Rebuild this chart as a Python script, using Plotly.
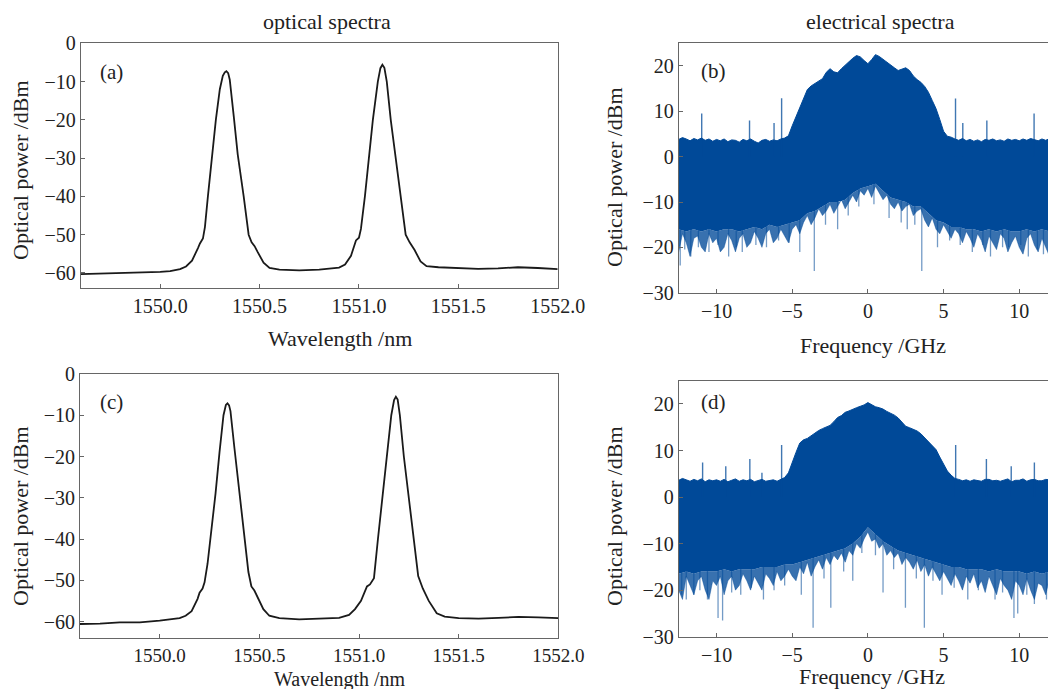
import numpy as np
import plotly.graph_objects as go

# ---------------- optical spectra (a) ----------------
wl_a = [1549.60, 1549.70, 1549.80, 1549.90, 1550.00, 1550.05, 1550.10, 1550.13, 1550.16, 1550.19,
        1550.20, 1550.215, 1550.225, 1550.24, 1550.26, 1550.28, 1550.30, 1550.315, 1550.325, 1550.333,
        1550.342, 1550.35, 1550.37, 1550.39, 1550.42, 1550.445, 1550.46, 1550.475, 1550.49, 1550.52,
        1550.55, 1550.60, 1550.70, 1550.80, 1550.90, 1550.93, 1550.96, 1550.985, 1551.00, 1551.01,
        1551.03, 1551.05, 1551.07, 1551.095, 1551.108, 1551.118, 1551.128, 1551.14, 1551.16, 1551.185,
        1551.21, 1551.235, 1551.255, 1551.28, 1551.31, 1551.34, 1551.40, 1551.50, 1551.60, 1551.70,
        1551.80, 1551.90, 1552.00]
pw_a = [-60.3, -60.2, -60.0, -59.9, -59.7, -59.5, -59.0, -58.3, -56.8, -53.5,
        -52.3, -51.0, -48.0, -40.0, -30.0, -20.0, -12.0, -8.5, -7.6, -7.3,
        -7.8, -9.5, -19.0, -29.0, -40.0, -50.0, -52.0, -53.0, -54.5, -57.3,
        -58.7, -59.1, -59.3, -59.1, -58.6, -57.8, -55.5, -51.5, -50.8, -48.5,
        -40.0, -30.0, -20.0, -10.0, -6.5, -5.6, -6.4, -10.0, -20.0, -30.0,
        -40.0, -50.0, -52.0, -54.0, -57.0, -58.2, -58.5, -58.7, -58.9, -58.8,
        -58.5, -58.7, -59.0]

# ---------------- optical spectra (c) ----------------
wl_c = [1549.60, 1549.70, 1549.80, 1549.90, 1550.00, 1550.05, 1550.10, 1550.13, 1550.16, 1550.19,
        1550.20, 1550.215, 1550.225, 1550.24, 1550.26, 1550.28, 1550.30, 1550.32, 1550.332, 1550.34,
        1550.348, 1550.355, 1550.375, 1550.395, 1550.42, 1550.445, 1550.46, 1550.475, 1550.49, 1550.52,
        1550.55, 1550.60, 1550.70, 1550.80, 1550.90, 1550.95, 1550.98, 1551.01, 1551.04, 1551.055,
        1551.075, 1551.095, 1551.118, 1551.14, 1551.162, 1551.176, 1551.185, 1551.194, 1551.205, 1551.225,
        1551.25, 1551.275, 1551.297, 1551.32, 1551.35, 1551.39, 1551.43, 1551.50, 1551.60, 1551.70,
        1551.80, 1551.90, 1552.00]
pw_c = [-60.6, -60.5, -60.2, -60.2, -59.8, -59.5, -59.2, -58.6, -57.5, -54.5,
        -53.0, -52.0, -50.5, -46.0, -38.0, -29.0, -19.0, -10.0, -7.5, -7.1,
        -7.6, -9.0, -18.0, -27.0, -37.0, -48.0, -51.5, -52.5, -54.0, -57.0,
        -58.6, -59.2, -59.5, -59.3, -59.1, -58.4, -57.0, -55.0, -51.5, -51.0,
        -49.5, -40.0, -30.0, -20.0, -10.0, -6.3, -5.5, -6.2, -10.0, -20.0,
        -30.0, -40.0, -49.0, -52.0, -55.0, -58.0, -58.8, -59.2, -59.3, -59.1,
        -58.9, -59.0, -59.2]

# ---------------- electrical spectra ----------------
freq = np.round(np.arange(-12.5, 12.501, 0.25), 2)        # fine frequency grid (GHz)
freq_core = np.round(np.arange(-12.5, 12.501, 0.5), 2)    # coarse grid for the dense core

# (b) upper envelope, dense lower core, ragged lower fringe
up_b = [3.8, 4.2, 3.9, 3.5, 4.0, 3.7, 4.1, 3.6, 3.9, 3.4,
        3.8, 3.5, 3.9, 3.3, 3.7, 3.6, 3.2, 3.8, 3.5, 3.9,
        3.4, 3.0, 3.6, 3.8, 3.4, 3.7, 3.5, 3.9, 4.1, 4.6,
        6.8, 8.8, 11.2, 13.0, 14.8, 15.6, 16.2, 16.6, 17.2, 18.6,
        19.4, 18.7, 18.5, 19.4, 20.2, 20.8, 21.7, 22.3, 22.0, 21.2,
        20.5, 21.4, 22.5, 22.1, 21.5, 21.0, 20.4, 19.6, 19.0, 19.3,
        19.6, 19.0, 17.8, 17.0, 16.4, 15.5, 14.2, 12.4, 10.6, 8.2,
        5.6, 4.5, 4.3, 3.9, 3.6, 4.0, 3.5, 3.8, 3.4, 3.7,
        3.3, 3.8, 3.6, 3.9, 3.5, 3.7, 3.4, 3.9, 3.6, 3.8,
        3.5, 3.9, 3.6, 4.0, 3.7, 3.5, 3.9, 3.6, 4.0, 3.7,
        3.8]
core_b = [-16, -16.5, -16, -16.5, -16, -16.5, -16, -16, -16.5, -16,
          -15.5, -16, -15, -15.5, -15, -14.5, -14, -12.5, -12, -11,
          -10, -10, -9.5, -8, -7, -6.5, -6, -7.5, -9, -9.5,
          -10, -11, -11, -12.5, -14, -14.5, -15.5, -15.5, -16, -16,
          -16.5, -16, -16.5, -16, -16.5, -16.5, -16, -16.5, -16, -16.5,
          -16]
low_b = [-21, -17, -19, -22, -18, -17.5, -20, -21, -17, -19,
         -18, -21, -20, -17, -18.5, -21, -18, -17, -20, -19,
         -16.5, -18, -20, -17, -16, -19, -18, -16, -17.5, -19,
         -16, -15, -17, -14.5, -13, -15, -13.5, -11.5, -13, -12,
         -10.5, -12.5, -11, -9.5, -11.5, -10, -8.5, -10, -7.5, -8.5,
         -7, -9, -6.5, -8, -9.5, -8.5, -10.5, -11.5, -10, -12,
         -11, -10.5, -13, -12, -11.5, -14, -15.5, -13.5, -16, -17,
         -15, -16.5, -18, -16, -17, -19, -16.5, -18, -20, -17,
         -18.5, -21, -17.5, -19, -20.5, -17, -18, -21, -19, -17.5,
         -20, -21.5, -18, -17, -19.5, -21, -18, -20, -22, -18,
         -19.5]
spk_up_f_b = [-10.98, -7.82, -6.2, -5.7, 5.79, 6.27, 7.86, 10.98]
spk_up_v_b = [9.5, 8.0, 7.4, 12.9, 12.8, 7.4, 8.0, 9.5]
spk_dn_f_b = [-12.4, -12.1, -11.7, -11.2, -10.5, -9.9, -9.2, -8.7, -8.3, -7.4, -6.7, -5.9, -5.2,
              -4.5, -3.54, -2.8, -2.0, -1.3, -0.6, 0.4, 1.4, 2.2, 2.6, 3.1, 3.56, 4.6, 5.4, 6.1,
              6.9, 7.6, 8.1, 8.9, 9.3, 10.1, 10.6, 11.2, 11.6, 12.2]
spk_dn_v_b = [-24, -20.5, -22, -20, -21, -19.5, -22, -20, -21, -19.5, -20, -18.5, -19,
              -21, -25.2, -15, -16, -13, -11, -10.5, -13.5, -14.5, -16, -15, -25.2, -20, -18.5, -19.5,
              -21, -19.5, -22, -20, -20, -19.5, -22, -20.5, -21.5, -20]

# (d)
up_d = [3.6, 4.0, 3.7, 3.4, 3.8, 3.5, 3.9, 3.3, 3.7, 3.5,
        3.7, 3.4, 3.8, 3.3, 3.6, 3.9, 3.4, 3.7, 3.5, 3.8,
        3.3, 3.6, 3.8, 3.4, 3.5, 3.7, 3.4, 3.8, 4.2, 5.2,
        7.6, 9.6, 11.6, 12.3, 12.6, 13.2, 13.8, 14.3, 14.7, 15.0,
        15.4, 16.2, 17.1, 17.5, 18.2, 18.5, 18.9, 19.2, 19.5, 19.8,
        20.3, 19.8, 19.4, 19.2, 18.9, 18.4, 18.0, 17.6, 17.0, 16.2,
        15.2, 14.9, 14.6, 14.2, 13.6, 12.8, 12.0, 11.2, 10.2, 8.6,
        7.0, 5.6, 4.7, 4.0, 3.8, 3.5, 3.7, 3.4, 3.7, 3.5,
        3.4, 3.8, 3.8, 3.5, 3.6, 3.4, 3.7, 3.9, 3.3, 3.6,
        3.6, 3.9, 3.4, 3.7, 3.8, 3.5, 3.5, 3.8, 3.7, 3.4,
        3.6]
core_d = [-16.5, -16, -16.5, -16, -16, -16, -15.5, -16, -15.5, -15.5,
          -15.5, -15, -15, -15, -14.5, -14.5, -14, -13.5, -13, -12.5,
          -12, -11.5, -11, -10, -8.5, -6.5, -8, -9.5, -10.5, -11.5,
          -12, -12.5, -13, -13.5, -14, -14.5, -15, -15, -15.5, -15.5,
          -15.5, -16, -15.5, -16, -16, -16, -16.5, -16, -16.5, -16,
          -16.5]
low_d = [-20, -22, -17, -19, -21, -18, -17, -20, -22, -18,
         -19, -17, -21, -18, -17, -20, -19, -16.5, -18, -20,
         -17, -18.5, -20, -16.5, -17.5, -19, -16, -18, -17, -15.5,
         -17, -18, -15, -16.5, -14, -17, -15, -13.5, -15.5, -13,
         -14.5, -12.5, -13.5, -12, -14, -11.5, -12.5, -10, -11, -9,
         -7.5, -9.5, -9, -11, -10, -12.5, -11.5, -13, -12, -14.5,
         -13, -14, -15.5, -13.5, -16, -14.5, -17, -15, -16.5, -18,
         -16, -17.5, -19, -16.5, -18, -20, -17, -18.5, -16.5, -19.5,
         -18, -20.5, -17, -19, -21, -17.5, -19, -20, -22, -18,
         -19, -21, -17.5, -20, -22, -18.5, -19, -21, -17.5, -20,
         -19]
spk_up_f_d = [-10.92, -9.39, -7.8, -7.0, -5.7, 5.8, 7.83, 9.47, 11.0]
spk_up_v_d = [7.4, 6.6, 8.2, 5.2, 11.2, 11.2, 8.2, 6.6, 7.4]
spk_dn_f_d = [-12.3, -12.0, -11.5, -11.1, -10.6, -9.9, -9.6, -9.0, -8.4, -7.7, -6.9, -6.2, -5.5,
              -4.4, -3.62, -2.9, -2.45, -1.6, -1.0, -0.4, 0.5, 1.0, 1.7, 2.48, 3.2, 3.73, 4.3,
              4.9, 5.7, 6.6, 7.3, 8.4, 8.9, 9.65, 9.9, 10.5, 11.0, 11.8]
spk_dn_v_d = [-21, -22, -21, -20, -22, -26, -26.5, -20.5, -21, -19.5, -22, -20, -19,
              -21, -28.1, -17.5, -23.8, -16, -18, -12, -12.5, -20.5, -15.5, -23.8, -17.5, -28.1, -18,
              -21, -19.5, -22, -20, -22, -20.5, -26, -25, -21, -23, -22]

# ---------------- layout helpers ----------------
W, H = 1048, 689
FONT = "Liberation Serif"
TXT = "#222222"
AX = "#666666"
BLUE = "rgb(0,73,152)"
BLUE_T = "rgba(0,73,152,0.55)"


def px(x):
    return x / W


def py(y):
    return 1 - y / H


fig = go.Figure()

panels = {
    # name: (xaxis id, yaxis id, x_left, x_right, y_top, y_bottom in pixels)
    "a": ("x", "y", 80.7, 557.7, 43.3, 288.3),
    "b": ("x2", "y2", 678.7, 1048.0, 43.3, 292.7),
    "c": ("x3", "y3", 80.0, 558.3, 374.0, 638.0),
    "d": ("x4", "y4", 678.7, 1048.0, 380.7, 636.7),
}

for wl, pw, xa, ya in [(wl_a, pw_a, "x", "y"), (wl_c, pw_c, "x3", "y3")]:
    fig.add_trace(go.Scatter(x=wl, y=pw, mode="lines", line=dict(color="#1a1a1a", width=1.8),
                             xaxis=xa, yaxis=ya, showlegend=False))


def add_elec(xa, ya, low, core, up, su_f, su_v, sd_f, sd_v):
    xs, ys = [], []
    for f, v in zip(sd_f, sd_v):
        xs += [f, f, None]
        ys += [0, v, None]
    fig.add_trace(go.Scatter(x=xs, y=ys, mode="lines", line=dict(color=BLUE_T, width=1.3),
                             xaxis=xa, yaxis=ya, showlegend=False))
    fig.add_trace(go.Scatter(x=list(freq), y=low, mode="lines", line=dict(color=BLUE_T, width=0.8),
                             xaxis=xa, yaxis=ya, showlegend=False))
    fig.add_trace(go.Scatter(x=list(freq_core), y=core, mode="lines", line=dict(color=BLUE, width=0),
                             fill="tonexty", fillcolor="rgba(0,73,152,0.78)", xaxis=xa, yaxis=ya,
                             showlegend=False))
    fig.add_trace(go.Scatter(x=list(freq), y=up, mode="lines", line=dict(color=BLUE, width=1),
                             fill="tonexty", fillcolor=BLUE, xaxis=xa, yaxis=ya, showlegend=False))
    xs, ys = [], []
    for f, v in zip(su_f, su_v):
        xs += [f, f, None]
        ys += [0, v, None]
    fig.add_trace(go.Scatter(x=xs, y=ys, mode="lines", line=dict(color="rgba(0,73,152,0.75)", width=1.4),
                             xaxis=xa, yaxis=ya, showlegend=False))


add_elec("x2", "y2", low_b, core_b, up_b, spk_up_f_b, spk_up_v_b, spk_dn_f_b, spk_dn_v_b)
add_elec("x4", "y4", low_d, core_d, up_d, spk_up_f_d, spk_up_v_d, spk_dn_f_d, spk_dn_v_d)

common = dict(showgrid=False, zeroline=False, showline=True, linecolor=AX, linewidth=1,
              ticks="inside", ticklen=4, tickcolor=AX, tickwidth=1,
              tickfont=dict(family=FONT, size=20, color=TXT), automargin=False)

layout = dict(width=W, height=H, autosize=False,
              margin=dict(l=0, r=0, t=0, b=0, pad=0, autoexpand=False),
              paper_bgcolor="white", plot_bgcolor="white", showlegend=False)

for name, (xa, ya, x0, x1, yt, yb) in panels.items():
    xk = "xaxis" + xa[1:]
    yk = "yaxis" + ya[1:]
    optical = name in ("a", "c")
    xdict = dict(common, domain=[px(x0), min(1.0, px(x1))], anchor=ya, mirror=True)
    ydict = dict(common, domain=[py(yb), py(yt)], anchor=xa, mirror=optical)
    if optical:
        xdict.update(range=[1549.6, 1552.0], tickvals=[1550.0, 1550.5, 1551.0, 1551.5, 1552.0],
                     tickformat=".1f")
        ydict.update(range=[-64, 0], tickvals=[0, -10, -20, -30, -40, -50, -60])
    else:
        xdict.update(range=[-12.5, 11.9], tickvals=[-10, -5, 0, 5, 10])
        ydict.update(range=[-30, 25], tickvals=[20, 10, 0, -10, -20, -30])
    if name == "c":
        xdict["tickfont"] = dict(family=FONT, size=19, color=TXT)
    layout[xk] = xdict
    layout[yk] = ydict

fig.update_layout(**layout)

ann = []
tfont = dict(family=FONT, size=22, color=TXT)
ann.append(dict(text="optical spectra", x=px(327), y=py(21), xref="paper", yref="paper",
                showarrow=False, font=tfont, xanchor="center", yanchor="middle"))
ann.append(dict(text="electrical spectra", x=px(880), y=py(21), xref="paper", yref="paper",
                showarrow=False, font=tfont, xanchor="center", yanchor="middle"))
for lab, (xc, yc) in {"(a)": (111, 72), "(b)": (713, 71), "(c)": (111, 402), "(d)": (713, 402)}.items():
    ann.append(dict(text=lab, x=px(xc), y=py(yc), xref="paper", yref="paper", showarrow=False,
                    font=dict(family=FONT, size=21, color=TXT), xanchor="center", yanchor="middle"))
for txt, xc, yc, fs in [("Wavelength /nm", 340, 338, 22), ("Wavelength /nm", 340, 679, 20),
                        ("Frequency /GHz", 873, 345, 22), ("Frequency /GHz", 872, 676, 22)]:
    ann.append(dict(text=txt, x=px(xc), y=py(yc), xref="paper", yref="paper", showarrow=False,
                    font=dict(family=FONT, size=fs, color=TXT), xanchor="center", yanchor="middle"))
for xc, yc in [(20, 170), (20, 516), (614, 177), (614, 516)]:
    ann.append(dict(text="Optical power /dBm", x=px(xc), y=py(yc), xref="paper", yref="paper",
                    showarrow=False, font=tfont, textangle=-90, xanchor="center", yanchor="middle"))
fig.update_layout(annotations=ann)

fig.write_html("out.html", config={"displayModeBar": False},
               post_script="document.body.style.margin='0';document.body.style.overflow='hidden';")
